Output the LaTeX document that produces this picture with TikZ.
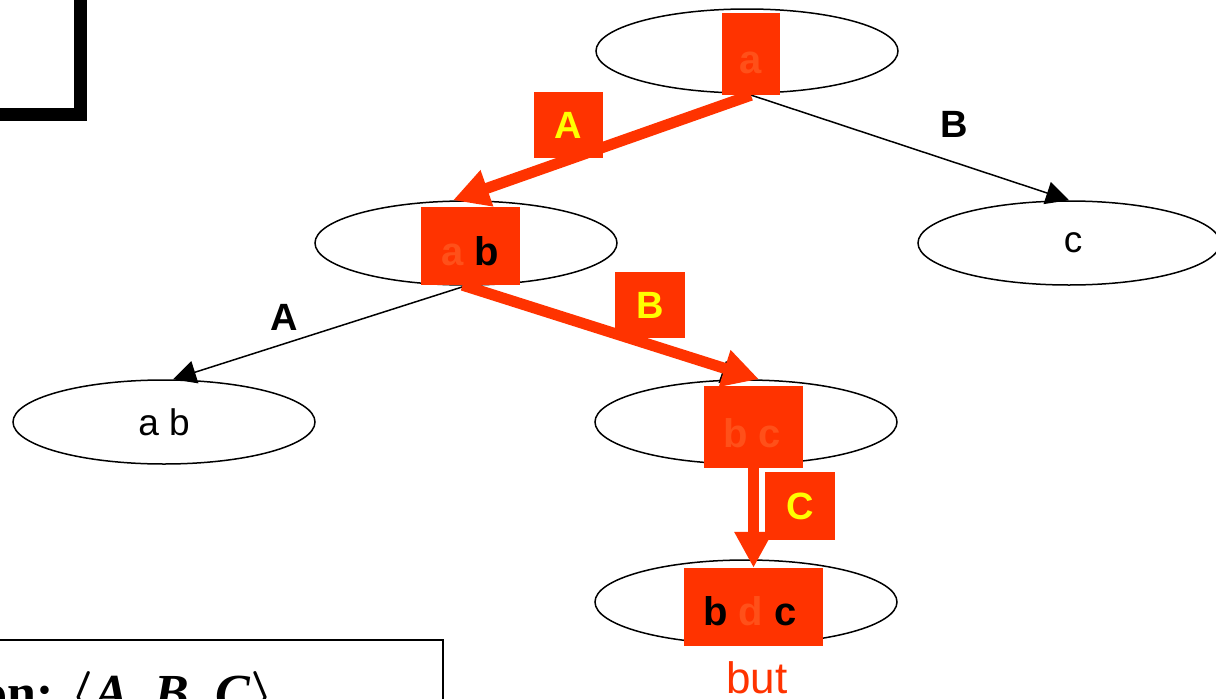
\documentclass[tikz,border=0pt]{standalone}
\usepackage{fix-cm}
\usepackage{fontspec}
\setmainfont{Liberation Sans}
\newfontfamily\timesfont{Liberation Serif}
\usetikzlibrary{shapes.geometric,arrows.meta}
\definecolor{hot}{HTML}{FF3300}
\definecolor{faint}{HTML}{FF5019}
\definecolor{yel}{HTML}{FFFF00}

\begin{document}
\begin{tikzpicture}[x=1pt,y=-1pt,
  state/.style={ellipse, draw, line width=1.5pt, minimum width=302pt, minimum height=84pt,
    inner sep=0pt, font=\fontsize{37}{44}\selectfont},
  hilite/.style={fill=hot, inner sep=0pt},
  hitext/.style={anchor=base, inner sep=0pt, font=\bfseries\fontsize{40}{48}\selectfont},
  tag/.style={fill=hot, inner sep=0pt, text=yel, font=\bfseries\fontsize{38}{44}\selectfont},
  edgelabel/.style={anchor=base, inner sep=0pt, font=\bfseries\fontsize{38}{44}\selectfont},
  thin arrow/.style={draw=black, line width=1.5pt, -{Triangle[length=23pt,width=23pt]}},
  red arrow/.style={draw=hot, line width=11pt, -{Triangle[length=36pt,width=36pt]}},
]
\useasboundingbox (0,0) rectangle (1216,699);
\clip (0,0) rectangle (1216,699);

% frame of the panel at the upper left
\draw[line width=13pt] (-20,114) -- (80.5,114) -- (80.5,-20);

% box holding the attribute order
\draw[line width=2pt] (-20,640) rectangle (443,760);
\node[anchor=base west, inner sep=0pt, font=\fontsize{52}{60}\selectfont] (order) at (-19,710)
  {{\timesfont\bfseries on: }{\boldmath$\langle$}{\timesfont\bfseries\itshape A, B, C}{\boldmath$\rangle$}};

% search tree states
\node[state] (na)   at (747,51)  {};
\node[state] (nab)  at (466,243) {};
\node[state] (nc)   at (1069,243) {\hspace*{8pt}c};
\node[state] (nab2) at (164,422) {a b};
\node[state] (nbc)  at (746,422) {};
\node[state] (nbdc) at (746,602) {};

% plain transitions
\draw[thin arrow] (na.south) -- (nc.north);
\draw[thin arrow] (nab.south) -- ([xshift=9pt]nab2.north);
\draw[thin arrow] (nab.south) -- ([xshift=-2pt]nbc.north);
\node[edgelabel] (lblB) at (954,137) {B};
\node[edgelabel] (lblA) at (284,330) {A};

% highlighted states
\node[hilite, minimum width=58pt, minimum height=82pt]  (ha)   at (751,54)    {};
\node[hilite, minimum width=99pt, minimum height=78pt]  (hab)  at (470.5,246) {};
\node[hilite, minimum width=99pt, minimum height=82pt]  (hbc)  at (753.5,427) {};
\node[hilite, minimum width=139pt, minimum height=78pt] (hbdc) at (753.5,607) {};

% highlighted path
\draw[red arrow] (ha.south) -- ([xshift=-13pt]nab.north);
\draw[red arrow] ([xshift=-8pt]hab.south) -- ([xshift=13pt]nbc.north);
\draw[red arrow] (hbc.south) -- (hbdc.north);

% step labels on the path
\node[tag, minimum width=69pt, minimum height=66pt] (tA) at (568.5,125) {A};
\node[tag, minimum width=70pt, minimum height=66pt] (tB) at (650,305)   {B};
\node[tag, minimum width=70pt, minimum height=68pt] (tC) at (800,506)   {C};

% contents of the highlighted states
\node[hitext, text=faint] (xa)   at (751,73)  {a};
\node[hitext]             (xab)  at (470,265) {{\color{faint}a} b};
\node[hitext, text=faint] (xbc)  at (752,447) {b c};
\node[hitext]             (xbdc) at (750,625) {b {\color{faint}d} c};

\node[anchor=base, inner sep=0pt, text=hot, font=\fontsize{44}{52}\selectfont] (goal) at (757,693) {but};
\end{tikzpicture}
\end{document}
